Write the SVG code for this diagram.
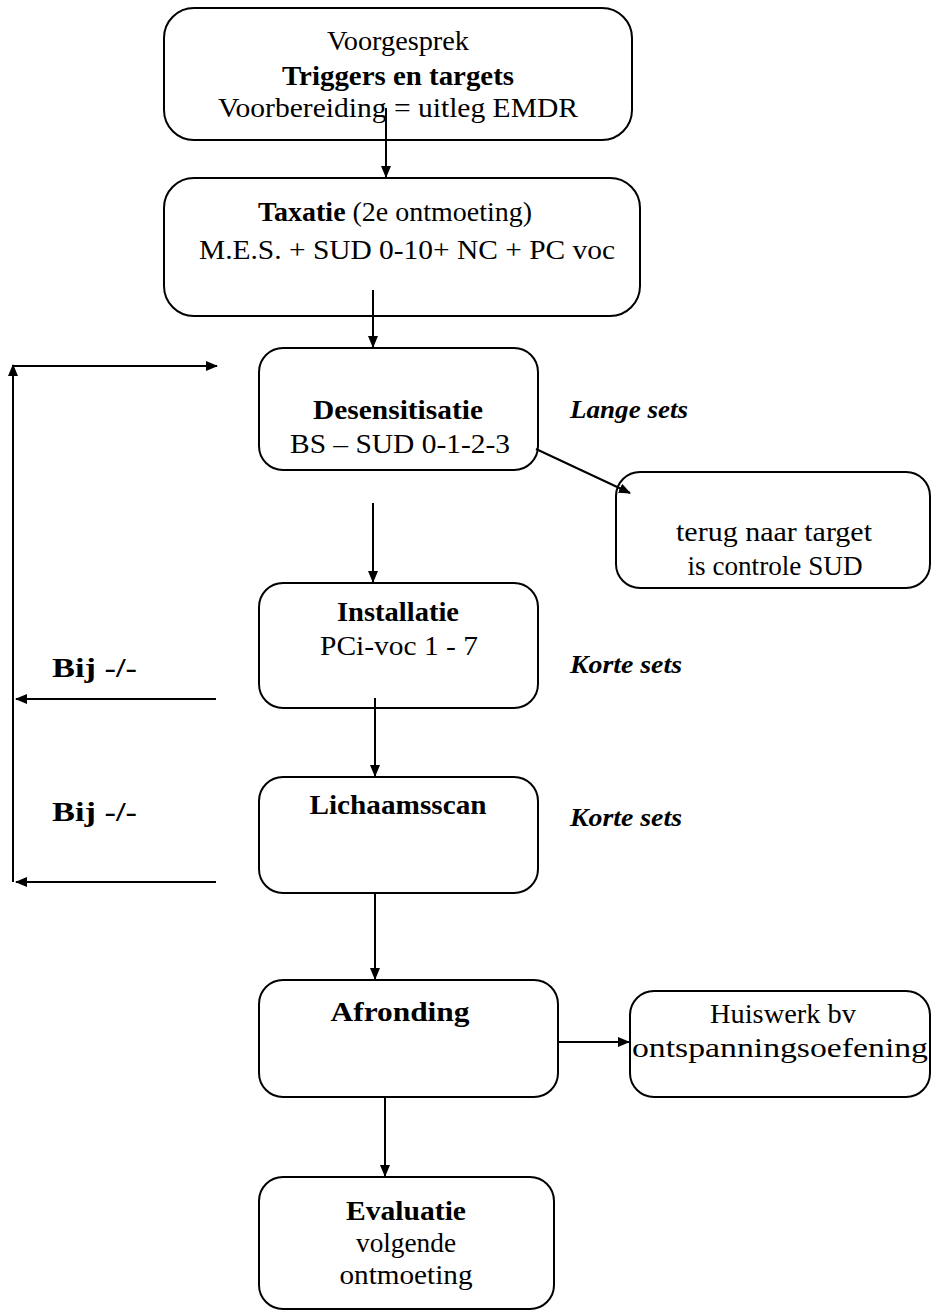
<svg xmlns="http://www.w3.org/2000/svg" width="932" height="1311" viewBox="0 0 932 1311">
<style>
.box{fill:#fff;stroke:#000;stroke-width:2}
.t{font-family:"Liberation Serif","Times New Roman",serif;font-size:28px;fill:#000;text-anchor:middle}
.b{font-weight:bold}
.lbl{font-family:"Liberation Serif","Times New Roman",serif;font-size:26px;font-weight:bold;font-style:italic;fill:#000}
.bij{font-family:"Liberation Serif","Times New Roman",serif;font-size:27px;font-weight:bold;fill:#000}
.c{fill:none;stroke:#000;stroke-width:2;marker-end:url(#ah)}
</style>
<defs>
<marker id="ah" markerUnits="userSpaceOnUse" markerWidth="12" markerHeight="10" refX="11" refY="5" orient="auto">
<path d="M0,0 L12,5 L0,10 z" fill="#000"/>
</marker>
</defs>
<g id="voorgesprek">
<rect class="box" x="164" y="8" width="468" height="132" rx="30"/>
<text class="t" x="398" y="50" textLength="142" lengthAdjust="spacingAndGlyphs">Voorgesprek</text>
<text class="t b" x="398" y="85" textLength="232" lengthAdjust="spacingAndGlyphs">Triggers en targets</text>
<text class="t" x="398" y="117" textLength="360" lengthAdjust="spacingAndGlyphs">Voorbereiding = uitleg EMDR</text>
</g>
<g id="taxatie">
<rect class="box" x="164" y="178" width="476" height="138" rx="30"/>
<text class="t" x="395" y="221" textLength="274" lengthAdjust="spacingAndGlyphs"><tspan class="b">Taxatie</tspan>  (2e ontmoeting)</text>
<text class="t" x="407" y="259" textLength="416" lengthAdjust="spacingAndGlyphs">M.E.S. + SUD 0-10+ NC + PC voc</text>
</g>
<g id="desensitisatie">
<rect class="box" x="259" y="348" width="279" height="122" rx="24"/>
<text class="t b" x="398" y="419" textLength="170" lengthAdjust="spacingAndGlyphs">Desensitisatie</text>
<text class="t" x="400" y="453" textLength="220" lengthAdjust="spacingAndGlyphs">BS – SUD 0-1-2-3</text>
</g>
<g id="terug">
<rect class="box" x="616" y="472" width="314" height="116" rx="24"/>
<text class="t" x="774" y="541" textLength="196" lengthAdjust="spacingAndGlyphs">terug naar target</text>
<text class="t" x="775" y="575" textLength="175" lengthAdjust="spacingAndGlyphs">is controle SUD</text>
</g>
<g id="installatie">
<rect class="box" x="259" y="583" width="279" height="125" rx="24"/>
<text class="t b" x="398" y="621" textLength="122" lengthAdjust="spacingAndGlyphs">Installatie</text>
<text class="t" x="399" y="655" textLength="158" lengthAdjust="spacingAndGlyphs">PCi-voc 1 - 7</text>
</g>
<g id="lichaamsscan">
<rect class="box" x="259" y="777" width="279" height="116" rx="24"/>
<text class="t b" x="398" y="814" textLength="177" lengthAdjust="spacingAndGlyphs">Lichaamsscan</text>
</g>
<g id="afronding">
<rect class="box" x="259" y="980" width="299" height="117" rx="24"/>
<text class="t b" x="400" y="1021" textLength="139" lengthAdjust="spacingAndGlyphs">Afronding</text>
</g>
<g id="huiswerk">
<rect class="box" x="630" y="991" width="300" height="106" rx="24"/>
<text class="t" x="783" y="1023" textLength="146" lengthAdjust="spacingAndGlyphs">Huiswerk bv</text>
<text class="t" x="780" y="1057" textLength="296" lengthAdjust="spacingAndGlyphs">ontspanningsoefening</text>
</g>
<g id="evaluatie">
<rect class="box" x="259" y="1177" width="295" height="132" rx="24"/>
<text class="t b" x="406" y="1220" textLength="120" lengthAdjust="spacingAndGlyphs">Evaluatie</text>
<text class="t" x="406" y="1252" textLength="100" lengthAdjust="spacingAndGlyphs">volgende</text>
<text class="t" x="406" y="1284" textLength="133" lengthAdjust="spacingAndGlyphs">ontmoeting</text>
</g>
<g id="labels">
<text class="lbl" x="570" y="418" textLength="118" lengthAdjust="spacingAndGlyphs">Lange sets</text>
<text class="lbl" x="570" y="673" textLength="112" lengthAdjust="spacingAndGlyphs">Korte sets</text>
<text class="lbl" x="570" y="826" textLength="112" lengthAdjust="spacingAndGlyphs">Korte sets</text>
<text class="bij" x="52" y="677" textLength="85" lengthAdjust="spacingAndGlyphs">Bij -/-</text>
<text class="bij" x="52" y="821" textLength="85" lengthAdjust="spacingAndGlyphs">Bij -/-</text>
</g>
<g id="connectors">
<line class="c" x1="386" y1="108" x2="386" y2="177"/>
<line class="c" x1="373" y1="290" x2="373" y2="347"/>
<line class="c" x1="536" y1="449" x2="630" y2="493"/>
<line class="c" x1="373" y1="503" x2="373" y2="582"/>
<line class="c" x1="375" y1="698" x2="375" y2="776"/>
<line class="c" x1="375" y1="893" x2="375" y2="979"/>
<line class="c" x1="558" y1="1042" x2="629" y2="1042"/>
<line class="c" x1="385" y1="1097" x2="385" y2="1176"/>
<line class="c" x1="216" y1="699" x2="16" y2="699"/>
<line class="c" x1="216" y1="882" x2="16" y2="882"/>
<line class="c" x1="13" y1="882" x2="13" y2="365"/>
<line class="c" x1="13" y1="366" x2="217" y2="366"/>
</g>
</svg>
